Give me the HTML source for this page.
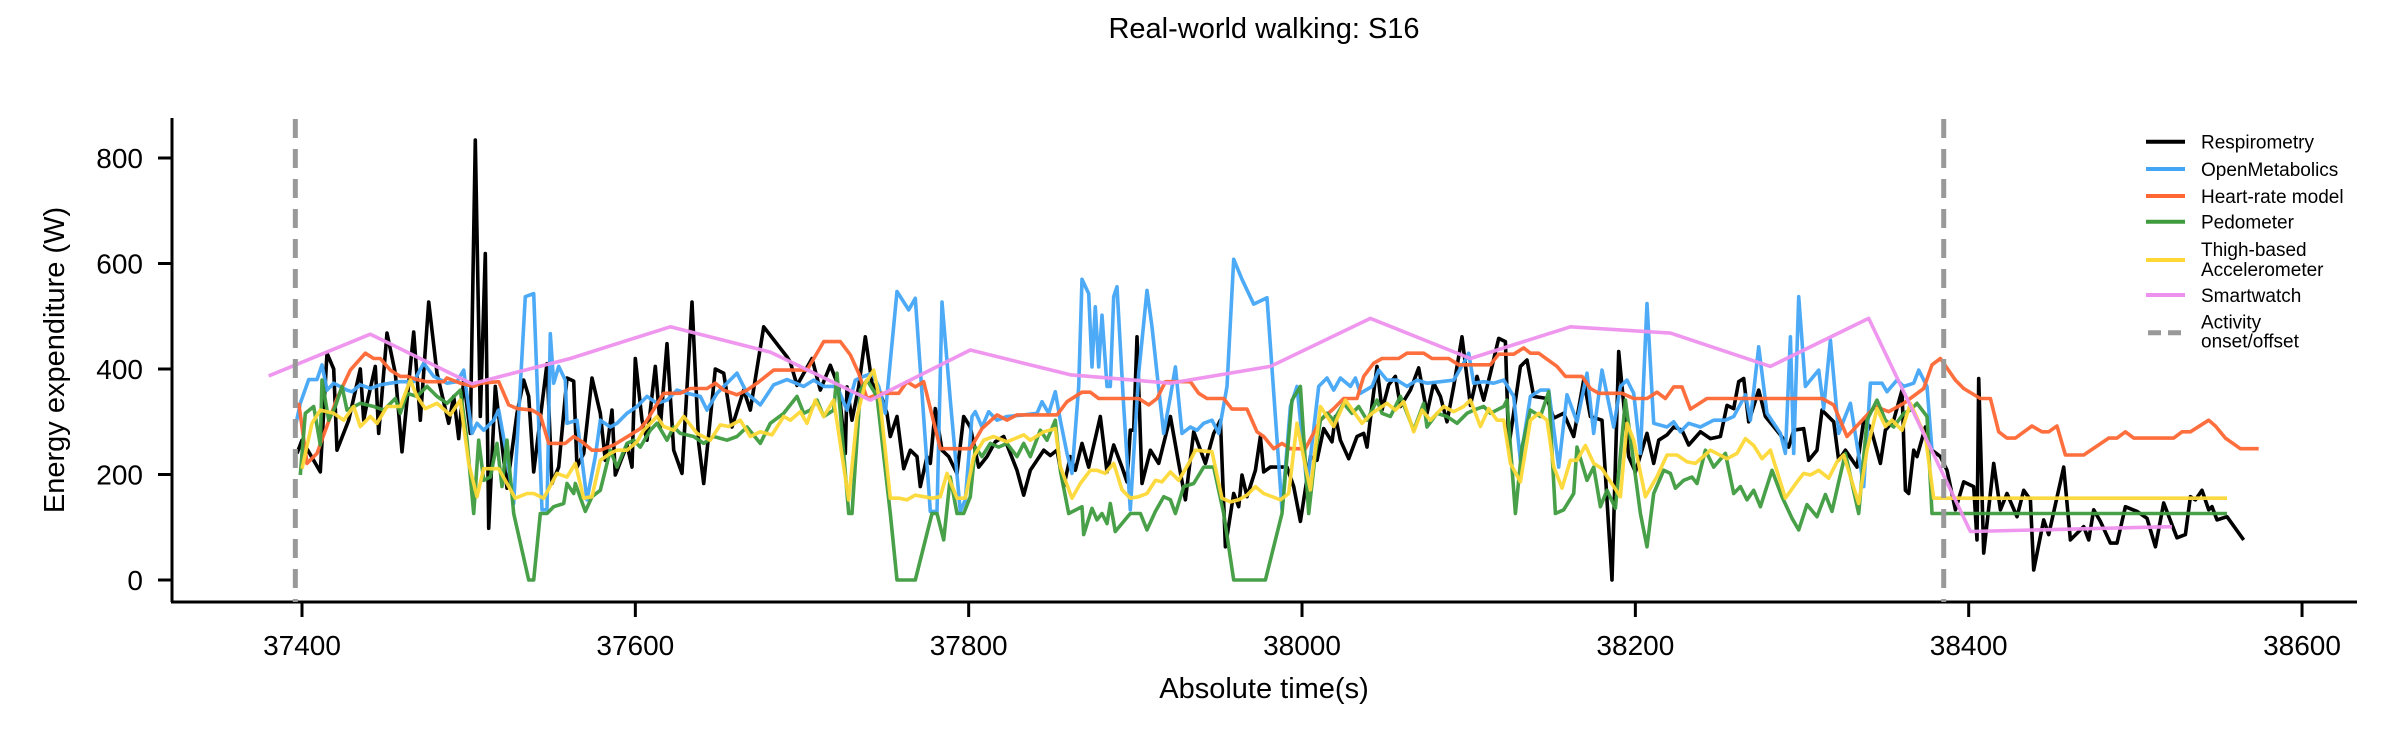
<!DOCTYPE html>
<html><head><meta charset="utf-8"><style>
html,body{margin:0;padding:0;background:#fff;}
svg{display:block;font-family:"Liberation Sans",Arial,sans-serif;}
</style></head><body>
<svg id="chart" width="2400" height="750" viewBox="0 0 2400 750">
<text x="1264" y="38" font-size="29" text-anchor="middle">Real-world walking: S16</text>
<text x="1264" y="698" font-size="29" text-anchor="middle">Absolute time(s)</text>
<text transform="translate(64,360) rotate(-90)" font-size="29" text-anchor="middle">Energy expenditure (W)</text>
<g id="plot"></g>
<g id="legend"></g>
</svg>
<script>
const xTicks=[37400,37600,37800,38000,38200,38400,38600];
const xTickLabels=["37400","37600","37800","38000","38200","38400","38600"];
const yTicks=[0,200,400,600,800];
const yTickLabels=["0","200","400","600","800"];
const onsetOffset=[37396,38385];

const respT=[37397,37400,37411,37415,37419,37421,37428,37435,37437,37439,37444,37446,37451,37456,37460,37467,37471,37476,37481,37488,37491,37494,37497,37501,37504,37507,37510,37512,37516,37523,37529,37533,37536,37539,37547,37550,37554,37559,37563,37565,37569,37574,37579,37582,37586,37588,37595,37598,37600,37604,37607,37612,37615,37619,37623,37628,37634,37638,37641,37648,37653,37658,37665,37669,37677,37691,
37693,37697,37706,37711,37717,37722,37726,37727,37730,37734,37738,37742,37747,37751,37753,37757,37761,37765,37769,37771,37775,37777,37780,37784,37788,37793,37797,37801,37806,37811,37816,37821,37829,37833,37837,37845,37849,37853,37857,37861,37864,37868,37872,37879,37883,37887,37892,37895,37897,37899,37901,37904,37909,37914,37921,37926,37930,37935,37942,37947,37951,37954,37959,37962,37964,37967,37972,37975,37977,37981,37991,37995,37999,
38005,38009,38013,38018,38020,38023,38028,38033,38037,38039,38042,38045,38048,38052,38056,38059,38065,38070,38075,38079,38083,38087,38091,38096,38101,38105,38109,38113,38118,38122,38124,38131,38135,38139,38147,38151,38157,38163,38169,38173,38180,38186,38190,38196,38200,38207,38211,38214,38219,38223,38228,38232,38239,38245,38251,38255,38259,38262,38265,38268,38274,38278,38287,38292,38295,38301,38304,
38309,38312,38319,38322,38326,38333,38337,38341,38347,38350,38355,38360,38362,38364,38367,38369,38374,38378,38383,38387,38392,38397,38403,38405,38406,38409,38415,38419,38423,38429,38433,38437,38439,38445,38448,38457,38461,38469,38472,38475,38479,38485,38489,38494,38501,38507,38512,38517,38525,38530,38533,38536,38540,38544,38546,38549,38555,38565];
const respV=[240,265,205,430,400,246,303,400,303,335,405,278,468,392,243,470,303,527,392,297,348,268,380,278,834,310,619,98,367,174,316,379,348,205,410,183,214,383,377,214,240,383,316,227,322,199,256,214,420,303,265,405,290,448,246,202,527,259,183,400,392,290,360,322,480,423,
413,369,420,360,407,366,240,366,303,366,461,373,354,316,272,310,211,246,234,177,234,221,325,246,234,202,310,290,214,234,262,272,208,161,208,246,236,246,177,234,208,259,214,310,205,256,214,186,284,284,461,183,246,221,310,221,152,281,221,278,303,63,164,139,199,158,208,272,205,214,214,177,111,
234,227,287,262,310,265,230,272,278,252,331,405,322,370,386,329,360,402,316,373,348,300,367,461,331,386,341,392,458,452,252,405,417,348,344,307,316,272,379,310,303,0,433,234,205,278,221,265,275,290,284,256,281,268,272,331,325,376,382,300,360,310,275,252,284,287,227,
246,322,300,227,246,214,303,290,221,284,303,360,170,164,246,234,290,246,234,208,133,186,177,76,382,51,221,133,164,120,170,152,19,114,86,214,76,101,76,133,111,70,70,139,130,117,63,146,80,86,158,152,170,133,139,114,120,76];

const omT=[37396,37399,37404,37409,37412,37415,37419,37427,37430,37435,37441,37447,37453,37459,37467,37473,37479,37487,37493,37497,37502,37505,37509,37515,37518,37523,37527,37534,37539,37544,37547,37549,37551,37554,37558,37559,37565,37571,37576,37579,37585,37589,37595,37601,37607,37613,37619,37625,37631,37639,37643,37649,37655,37661,37667,37675,37683,37691,
37701,37707,37713,37721,37727,37732,37737,37742,37746,37750,37757,37764,37768,37777,37781,37784,37789,37795,37798,37802,37804,37808,37812,37817,37823,37833,37841,37844,37848,37852,37855,37859,37862,37866,37868,37872,37874,37876,37878,37880,37883,37885,37887,37889,37893,37897,37902,37907,37910,37913,37917,37921,37924,37928,37933,37937,37941,37946,37950,37955,37959,37964,37971,37979,37988,37993,37997,
38003,38010,38015,38019,38023,38029,38032,38035,38042,38046,38051,38057,38063,38069,38075,38083,38091,38098,38100,38103,38109,38115,38121,38127,38131,38137,38143,38148,38154,38159,38165,38171,38175,38180,38187,38191,38195,38199,38203,38207,38211,38219,38223,38227,38232,38239,38247,38254,38259,38266,38269,38274,38279,38287,38290,38293,38295,38298,38302,38305,
38310,38313,38317,38322,38325,38329,38337,38341,38348,38351,38357,38361,38367,38370,38375,38378];
const omV=[290,335,380,380,408,360,373,360,357,370,363,370,373,376,376,411,386,373,376,398,278,297,284,303,322,234,145,537,543,133,133,467,373,405,379,297,303,152,234,303,290,297,316,329,348,335,341,360,354,348,322,354,373,392,354,332,370,380,
367,379,367,367,322,379,386,392,367,316,547,512,534,130,130,527,341,130,152,310,319,290,319,303,310,313,316,338,316,357,303,240,202,367,570,543,404,518,404,502,367,367,537,556,329,133,392,549,480,392,278,348,404,278,290,284,297,303,278,367,608,570,523,535,133,329,367,
177,367,383,360,383,367,383,354,367,398,379,379,367,379,373,376,379,417,430,373,376,373,379,348,227,348,360,360,214,351,300,392,278,398,290,367,379,354,240,524,297,290,300,281,297,290,303,303,310,351,303,442,316,278,240,461,240,537,367,379,
398,325,455,278,303,335,177,373,373,357,379,367,373,398,367,246];

const hrT=[37398,37403,37409,37421,37429,37438,37443,37447,37453,37459,37463,37469,37475,37485,37487,37495,37503,37507,37518,37524,37529,37538,37543,37548,37558,37563,37568,37574,37579,37587,37597,37603,37607,37617,37627,37633,37643,37648,37653,37661,37667,37673,37683,
37693,37703,37713,37723,37729,37734,37739,37747,37758,37763,37768,37773,37783,37801,37808,37817,37823,37829,37853,37859,37868,37873,37878,37902,37908,37913,37918,37933,37938,37943,37953,37958,37967,37973,37977,37983,37988,37993,38002,
38011,38019,38025,38033,38037,38043,38048,38058,38063,38073,38078,38088,38094,38113,38118,38127,38133,38137,38142,38153,38158,38168,38173,38178,38192,38199,38207,38213,38218,38223,38228,38233,38243,
38305,38312,38319,38327,38337,38344,38352,38361,38373,38378,38383,38392,38397,38407,38413,38418,38423,38428,38438,38444,38448,38453,38458,38469,38484,38489,38494,38499,38523,38528,38533,38544,38548,38554,38563,38574];
const hrV=[336,221,240,344,398,430,420,420,398,386,386,380,376,376,383,373,367,373,376,332,325,322,313,259,259,272,262,246,246,256,275,287,303,354,354,363,363,373,360,351,360,373,398,
398,398,452,452,427,392,344,354,354,376,366,376,249,249,287,313,303,313,313,338,356,356,344,344,332,344,376,376,354,344,344,324,324,281,272,249,259,249,249,
303,325,344,344,386,411,420,420,430,430,420,420,408,408,428,428,440,430,430,405,386,386,363,354,354,344,344,356,344,366,366,324,344,
344,344,332,272,306,329,319,335,363,408,420,379,363,344,344,281,269,269,292,281,281,292,237,237,269,269,281,269,269,281,281,303,292,269,249,249];

const pedT=[37399,37402,37407,37411,37412,37416,37420,37424,37427,37435,37443,37449,37456,37459,37463,37469,37475,37481,37487,37495,37499,37503,37506,37509,37513,37517,37520,37523,37527,37536,37539,37543,37547,37551,37557,37559,37563,37564,37570,37574,37579,37585,37589,37595,37599,37603,37609,37613,37619,37623,37627,37635,37641,37647,37655,37661,37667,37675,37681,37689,
37697,37701,37705,37709,37713,37719,37721,37728,37730,37735,37739,37745,37753,37757,37768,37778,37781,37785,37789,37793,37797,37801,37804,37808,37813,37818,37823,37829,37833,37837,37843,37847,37852,37855,37860,37868,37869,37874,37877,37880,37883,37885,37888,37897,37903,37907,37912,37917,37921,37924,37929,37935,37941,37947,37953,37959,37978,37988,37994,37999,
38004,38008,38011,38015,38019,38025,38030,38034,38039,38045,38048,38053,38059,38067,38073,38075,38081,38087,38093,38099,38103,38109,38113,38121,38123,38128,38132,38137,38143,38148,38152,38157,38163,38165,38171,38175,38179,38183,38188,38194,38203,38207,38211,38217,38221,38224,38229,38234,38237,38242,38247,38254,38259,38263,38267,38271,38275,38282,38288,38294,38298,38303,38309,
38314,38318,38322,38326,38334,38339,38345,38350,38355,38361,38365,38369,38375,38378,38555];
const pedV=[199,316,329,256,379,303,329,367,322,335,329,322,344,316,354,348,367,348,335,360,265,126,265,189,195,259,177,265,126,0,0,126,126,139,145,183,164,183,130,158,170,246,214,259,265,252,284,297,265,290,278,272,259,272,265,272,290,259,297,316,
348,316,322,341,310,322,392,126,126,360,379,348,126,0,0,126,126,76,195,126,126,158,252,234,259,252,259,234,259,234,284,265,303,208,126,139,86,136,114,126,107,145,92,126,126,95,130,158,152,126,177,183,214,214,126,0,0,126,341,367,
126,240,303,316,303,335,316,329,303,341,316,310,348,284,335,290,316,310,297,316,322,329,316,329,341,126,252,322,310,357,126,133,164,252,189,214,139,170,136,341,126,63,164,208,202,174,189,195,183,246,214,240,164,177,152,170,139,208,158,117,95,143,120,
162,130,186,240,126,303,341,303,290,316,322,335,310,126,126];

const thighT=[37400,37406,37411,37419,37425,37431,37435,37441,37445,37451,37459,37465,37469,37474,37481,37489,37495,37500,37505,37509,37518,37528,37535,37539,37545,37553,37559,37564,37569,37574,37579,37585,37589,37595,37601,37605,37613,37617,37623,37629,37637,37645,37651,37656,37663,37669,37675,37682,37689,
37693,37699,37703,37708,37713,37719,37728,37733,37738,37743,37747,37753,37758,37763,37768,37773,37778,37783,37787,37793,37798,37803,37809,37815,37823,37833,37837,37845,37852,37855,37862,37867,37873,37877,37882,37887,37892,37897,37902,37907,37912,37916,37921,37926,37932,37936,37946,37952,37957,37962,37967,37972,37977,37987,37992,37997,38002,
38005,38011,38019,38026,38036,38042,38051,38056,38061,38067,38072,38077,38085,38091,38097,38101,38107,38112,38117,38121,38125,38131,38137,38142,38147,38151,38156,38161,38165,38170,38175,38180,38191,38195,38199,38206,38213,38219,38225,38231,38236,38245,38255,38261,38266,38271,38276,38281,38290,38297,38301,38305,
38310,38316,38321,38325,38334,38339,38345,38350,38354,38360,38365,38374,38379,38555];
const thighV=[211,297,322,316,303,329,291,310,297,329,329,379,348,325,335,313,341,221,158,211,211,155,164,164,155,202,195,221,155,158,227,240,246,246,262,284,310,291,284,310,278,265,294,291,303,272,281,275,310,
303,319,297,341,310,341,152,310,373,398,335,155,155,152,161,158,155,158,202,155,155,234,265,272,262,275,265,281,287,215,155,183,208,208,202,221,171,155,158,164,189,186,205,189,221,246,243,155,148,152,161,177,164,152,164,297,215,
171,329,291,341,297,316,335,322,338,281,322,303,329,319,329,341,291,325,303,303,221,186,303,316,303,215,174,227,227,255,221,211,158,297,265,158,196,237,237,224,221,246,230,240,268,255,230,246,155,186,202,199,
208,193,224,237,145,246,325,291,303,284,335,272,155,155];

const watchT=[37380,37441,37502,37561,37621,37681,37741,37801,37861,37921,37981,38041,38101,38161,38221,38281,38340,38401,38522];
const watchV=[387,466,372,420,480,432,341,436,389,373,405,496,420,480,468,405,496,92,101];

const seriesNames=["Respirometry","OpenMetabolics","Heart-rate model","Pedometer","Thigh-based\nAccelerometer","Smartwatch"];

// axis functions
const X0=302, XPS=1.6667, T0=37400;
function xs(t){return X0+(t-T0)*XPS;}
function ys(v){return 580-v*0.5275;}
const NS="http://www.w3.org/2000/svg";
const plot=document.getElementById('plot');
function mk(tag,attrs,parent){const e=document.createElementNS(NS,tag);for(const k in attrs)e.setAttribute(k,attrs[k]);(parent||plot).appendChild(e);return e;}

// axes
let ax=mk('line',{x1:172,y1:118,x2:172,y2:602,stroke:'#000','stroke-width':3});


ax=mk('line',{x1:171,y1:602,x2:2357,y2:602,stroke:'#000','stroke-width':3});


xTicks.forEach((t,i)=>{
  const tk=mk('line',{x1:xs(t),y1:602,x2:xs(t),y2:617,stroke:'#000','stroke-width':3});
  
  
  const tl=mk('text',{x:xs(t),y:655,'font-size':28,'text-anchor':'middle'});
  tl.textContent=xTickLabels[i];
  
  
});
yTicks.forEach((v,i)=>{
  const tk=mk('line',{x1:158,y1:ys(v),x2:172,y2:ys(v),stroke:'#000','stroke-width':3});
  
  
  const tl=mk('text',{x:143,y:ys(v)+10,'font-size':28,'text-anchor':'end'});
  tl.textContent=yTickLabels[i];
  
  
});

const colors=['#000000','#42A5F5','#FF6633','#3E9B3E','#FDD835','#EE90EE'];
const data=[[respT,respV],[omT,omV],[hrT,hrV],[pedT,pedV],[thighT,thighV],[watchT,watchV]];
const order=[0,1,2,3,4,5];
const lineNames=['respirometry-line','openmetabolics-line','heart-rate-line','pedometer-line','thigh-accelerometer-line','smartwatch-line'];
order.forEach(i=>{
  const [T,V]=data[i];
  let d='';
  for(let k=0;k<T.length;k++){d+=(k?'L':'M')+xs(T[k]).toFixed(1)+' '+ys(V[k]).toFixed(1);}
  const p=mk('path',{d:d,fill:'none',stroke:colors[i],'stroke-width':3.6,'stroke-linejoin':'round','stroke-opacity':i===0?1:0.95});
  
  
});
onsetOffset.forEach(t=>{
  const l=mk('line',{x1:xs(t),y1:119,x2:xs(t),y2:602,stroke:'#999','stroke-width':5,'stroke-dasharray':'19 11'});
  
  
});

// legend
const lg=document.getElementById('legend');
const rows=[[141.7,[141.7]],[169,[169]],[196,[196]],[221.7,[221.7]],[260,[249,269]],[295,[295]],[332.7,[321.7,340.7]]];
const labels=[["Respirometry"],["OpenMetabolics"],["Heart-rate model"],["Pedometer"],["Thigh-based","Accelerometer"],["Smartwatch"],["Activity","onset/offset"]];
const entryNames=['legend-respirometry','legend-openmetabolics','legend-heart-rate','legend-pedometer','legend-thigh','legend-smartwatch','legend-activity'];
rows.forEach((r,i)=>{
  const g=mk('g',{},lg);
  
  
  if(i<6){mk('line',{x1:2146,y1:r[0],x2:2185,y2:r[0],stroke:colors[i],'stroke-width':4},g);}
  else{mk('line',{x1:2148,y1:r[0],x2:2186,y2:r[0],stroke:'#999','stroke-width':5,'stroke-dasharray':'13 7'},g);}
  labels[i].forEach((s,j)=>{const t=mk('text',{x:2201,y:r[1][j]+7,'font-size':19},g);t.textContent=s;});
});
</script>
</body></html>
